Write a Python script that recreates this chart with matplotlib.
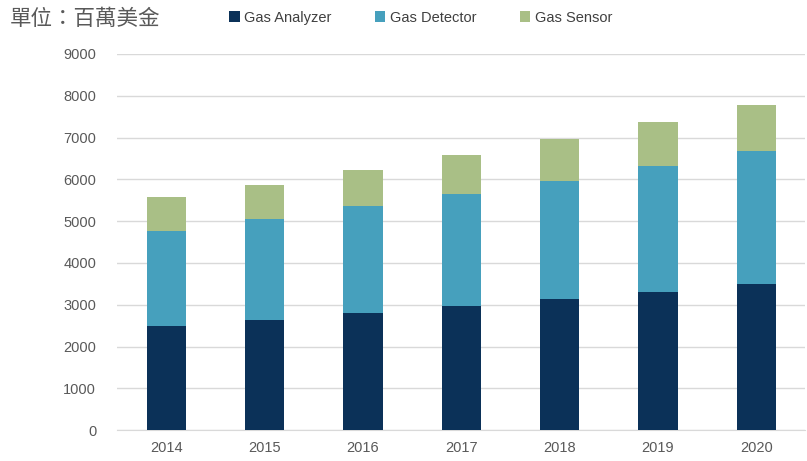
import numpy as np
import matplotlib.pyplot as plt

plt.rcParams['font.family'] = ['Liberation Sans', 'DejaVu Sans']

# 數據（百萬美金）
years = ['2014', '2015', '2016', '2017', '2018', '2019', '2020']
analyzer = [2500, 2630, 2800, 2960, 3130, 3310, 3490]
detector = [2270, 2410, 2550, 2690, 2840, 3000, 3180]
sensor = [800, 830, 870, 930, 1000, 1050, 1120]
series_names = ['Gas Analyzer', 'Gas Detector', 'Gas Sensor']
colors = ['#0b3158', '#46a0bd', '#a9bf86']

fig = plt.figure(figsize=(8.07, 4.61), dpi=100)
ax = fig.add_axes([0.145, 0.067, 0.853, 0.816])

x = np.arange(len(years))
w = 0.4
b1 = ax.bar(x, analyzer, w, color=colors[0], label=series_names[0], zorder=3)
b2 = ax.bar(x, detector, w, bottom=analyzer, color=colors[1], label=series_names[1], zorder=3)
bottom2 = np.array(analyzer) + np.array(detector)
b3 = ax.bar(x, sensor, w, bottom=bottom2, color=colors[2], label=series_names[2], zorder=3)

ax.set_xlim(-0.5, len(years) - 0.5)
ax.set_ylim(0, 9000)
ax.set_yticks(np.arange(0, 9001, 1000))
ax.set_xticks(x)
ax.set_xticklabels(years)
ax.yaxis.grid(True, color='#d9d9d9', linewidth=1, zorder=0)
ax.tick_params(axis='both', length=0, labelsize=10.5, colors='#595959')
ax.tick_params(axis='y', pad=15)
ax.tick_params(axis='x', pad=8)
for s in ['top', 'right', 'left']:
    ax.spines[s].set_visible(False)
ax.spines['bottom'].set_color('#d9d9d9')

fig.text(0.012, 0.958, '單位：百萬美金', fontsize=15.5, color='#595959',
         family=['Noto Sans CJK TC', 'DejaVu Sans'], va='center')

fig.legend(handles=[b1, b2, b3], loc='center left', bbox_to_anchor=(0.268, 0.962),
           ncol=3, frameon=False, fontsize=10.5, handlelength=0.7, handleheight=0.7,
           handletextpad=0.3, columnspacing=3.0, labelcolor='#404040')

fig.savefig('out.png', dpi=100)
